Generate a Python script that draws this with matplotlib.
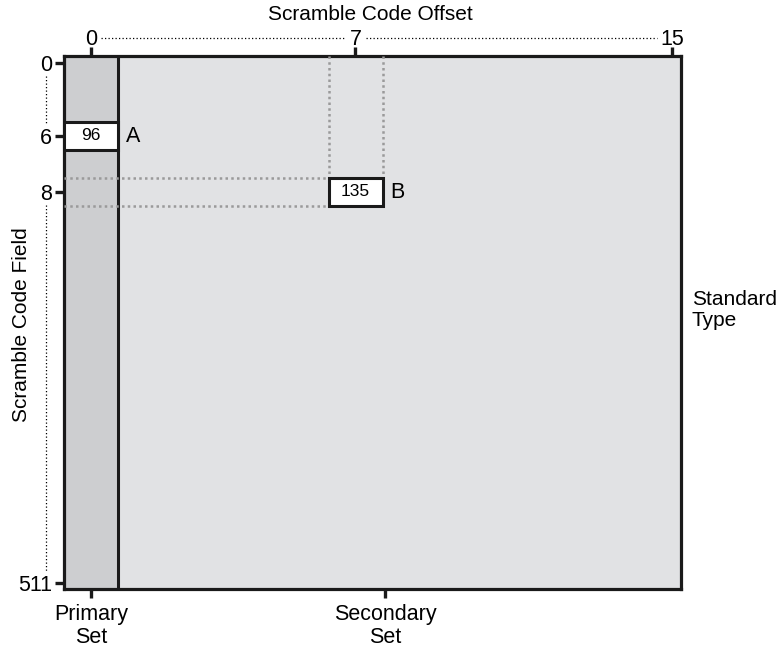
import matplotlib.pyplot as plt
from matplotlib.patches import Rectangle

plt.rcParams['font.family'] = ['Liberation Sans', 'DejaVu Sans']

# chart content
top_ticks = [0, 7, 15]
left_ticks = [0, 6, 8, 511]
bottom_labels = ['Primary\nSet', 'Secondary\nSet']
cell_names = ['A', 'B']
cell_rows = [6, 8]
cell_cols = [0, 7]
cell_values = [96, 135]

# schematic layout (diagram is not to scale), positions in pixels inside the box
col_pos = {0: 27, 7: 291.5, 15: 608}
row_pos = {0: 7, 6: 80, 8: 136, 511: 527}
bottom_pos = [27, 321]
cell_w, cell_h = 54, 28
W, H = 617, 533

fig = plt.figure(figsize=(7.79, 6.47), dpi=100)
ax = fig.add_axes([64 / 779, 58 / 647, W / 779, H / 647])
ax.set_xlim(0, W)
ax.set_ylim(H, 0)
ax.set_facecolor('#e1e2e4')

# primary column shading
ax.add_patch(Rectangle((0, 0), cell_w, H, fc='#cdced0', ec='none', zorder=1))
ax.axvline(cell_w, color='#1a1a1a', lw=2.2, zorder=2)

for s in ax.spines.values():
    s.set_linewidth(2.3)
    s.set_color('#1a1a1a')

# cells
for name, r, c, v in zip(cell_names, cell_rows, cell_cols, cell_values):
    x0 = col_pos[c] - cell_w / 2
    y0 = row_pos[r] - cell_h / 2
    ax.add_patch(Rectangle((x0, y0), cell_w, cell_h, fc='white', ec='#1a1a1a',
                           lw=2.2, zorder=4))
    ax.text(col_pos[c], row_pos[r], str(v), ha='center', va='center', fontsize=12.5, zorder=5)
    ax.text(x0 + cell_w + 8, row_pos[r], name, ha='left', va='center', fontsize=15.5, zorder=5)
    if c > 0:
        # guide lines from the row and column
        for yy in (y0, y0 + cell_h):
            ax.plot([0, x0], [yy, yy], color='#9a9a9a', lw=1.8, ls=(0, (1, 1.3)), zorder=3)
        for xx in (x0, x0 + cell_w):
            ax.plot([xx, xx], [0, y0], color='#9a9a9a', lw=1.8, ls=(0, (1, 1.3)), zorder=3)

# left axis
ax.set_yticks([row_pos[r] for r in left_ticks], [str(r) for r in left_ticks])
ax.tick_params(axis='y', length=6.5, width=2.4, pad=2, labelsize=15.5, color='#1a1a1a')
for a, b in [(0, 6), (8, 511)]:
    ax.plot([-18, -18], [row_pos[a] + 13, row_pos[b] - 12], color='black', lw=0.9,
            ls=(0, (1, 1.8)), clip_on=False)

# bottom axis
ax.set_xticks(bottom_pos, bottom_labels)
ax.tick_params(axis='x', length=6.5, width=2.4, pad=4, labelsize=15.5, color='#1a1a1a')
for lab in ax.get_xticklabels():
    lab.set_linespacing(1.15)

# top axis
sec = ax.secondary_xaxis('top')
sec.set_xticks([col_pos[c] for c in top_ticks], [str(c) for c in top_ticks])
sec.tick_params(axis='x', length=6.5, width=2.4, pad=-2, labelsize=15.5, color='#1a1a1a')
sec.spines['top'].set_visible(False)
gaps = {0: 10, 7: 10, 15: 15}
for a, b in [(0, 7), (7, 15)]:
    ax.plot([col_pos[a] + gaps[a], col_pos[b] - gaps[b]], [-18, -18], color='black',
            lw=0.9, ls=(0, (1, 1.8)), clip_on=False)

fig.text(370 / 779, 1 - 14 / 647, 'Scramble Code Offset', ha='center', va='center', fontsize=15)
fig.text(22 / 779, 1 - 325 / 647, 'Scramble Code Field', ha='center', va='center',
         rotation=90, fontsize=15)
fig.text(692 / 779, 1 - 310 / 647, 'Standard\nType', ha='left', va='center', fontsize=15,
         linespacing=1.15)

fig.savefig('out.png', dpi=100)
